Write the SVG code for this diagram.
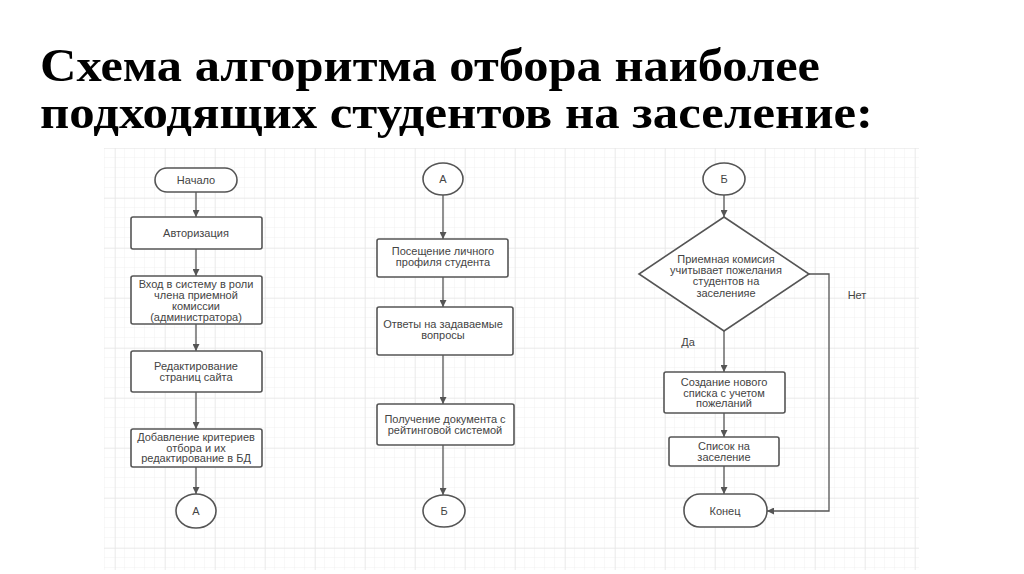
<svg xmlns="http://www.w3.org/2000/svg" width="1024" height="574" viewBox="0 0 1024 574">
  <defs>
    <pattern id="minor" x="105" y="148" width="10" height="10" patternUnits="userSpaceOnUse">
      <path d="M10 0V10M0 10H10" fill="none" stroke="#f0f0f0" stroke-width="1"/>
    </pattern>
    <pattern id="major" x="115" y="148" width="50" height="50" patternUnits="userSpaceOnUse">
      <path d="M0 0V50M0 0H50" fill="none" stroke="#e2e2e2" stroke-width="1"/>
    </pattern>
    <marker id="arr" viewBox="0 0 10 10" refX="10" refY="5" markerWidth="7" markerHeight="7" markerUnits="userSpaceOnUse" orient="auto">
      <path d="M0 0L10 5L0 10Z" fill="#555"/>
    </marker>
    <style>
      .title { font-family: "Liberation Serif", "Times New Roman", serif; font-weight: bold; font-size: 46px; fill: #000; }
      .box { fill: #fff; stroke: #555; stroke-width: 1.6; }
      .t { font-family: "Liberation Sans", Arial, sans-serif; font-size: 11px; fill: #444; text-anchor: middle; dominant-baseline: central; }
      .c { fill: none; stroke: #555; stroke-width: 1.3; marker-end: url(#arr); }
    </style>
  </defs>
  <rect width="1024" height="574" fill="#fff"/>
  <text class="title" x="40" y="81" textLength="780" lengthAdjust="spacingAndGlyphs">Схема алгоритма отбора наиболее</text>
  <text class="title" x="40" y="128" textLength="833" lengthAdjust="spacingAndGlyphs">подходящих студентов на заселение:</text>

  <g id="grid">
    <rect x="104" y="148" width="815" height="422" fill="url(#minor)"/>
    <rect x="104" y="148" width="815" height="422" fill="url(#major)"/>
  </g>

  <g id="connectors">
    <path class="c" d="M196 192V217"/>
    <path class="c" d="M196 249V276"/>
    <path class="c" d="M196 324V351"/>
    <path class="c" d="M196 392V429"/>
    <path class="c" d="M196 467V494"/>
    <path class="c" d="M443 195V239"/>
    <path class="c" d="M443 277V307"/>
    <path class="c" d="M443 355V404"/>
    <path class="c" d="M443 445V495"/>
    <path class="c" d="M724 195V217"/>
    <path class="c" d="M724 331V372"/>
    <path class="c" d="M724 413V437"/>
    <path class="c" d="M724 466V494"/>
    <path class="c" d="M809 274H829V511H767"/>
    <text class="t" x="688" y="342">Да</text>
    <text class="t" x="857" y="295">Нет</text>
  </g>

  <g id="start">
    <rect class="box" x="155" y="168" width="82" height="24" rx="12"/>
    <text class="t" x="196" y="180">Начало</text>
  </g>
  <g id="auth">
    <rect class="box" x="131" y="217" width="131" height="32" rx="2"/>
    <text class="t" x="196" y="233">Авторизация</text>
  </g>
  <g id="login">
    <rect class="box" x="131" y="276" width="131" height="48" rx="2"/>
    <text class="t" x="196" y="284">Вход в систему в роли</text>
    <text class="t" x="196" y="295">члена приемной</text>
    <text class="t" x="196" y="306">комиссии</text>
    <text class="t" x="196" y="317">(администратора)</text>
  </g>
  <g id="edit">
    <rect class="box" x="131" y="351" width="131" height="41" rx="2"/>
    <text class="t" x="196" y="366">Редактирование</text>
    <text class="t" x="196" y="377">страниц сайта</text>
  </g>
  <g id="criteria">
    <rect class="box" x="131" y="429" width="131" height="38" rx="2"/>
    <text class="t" x="196" y="437">Добавление критериев</text>
    <text class="t" x="196" y="447.5">отбора и их</text>
    <text class="t" x="196" y="458">редактирование в БД</text>
  </g>
  <g id="connA1">
    <ellipse class="box" cx="196" cy="511" rx="20" ry="17"/>
    <text class="t" x="196" y="511">А</text>
  </g>

  <g id="connA2">
    <ellipse class="box" cx="443" cy="179" rx="20" ry="16"/>
    <text class="t" x="443" y="179">А</text>
  </g>
  <g id="profile">
    <rect class="box" x="377" y="239" width="131" height="38" rx="2"/>
    <text class="t" x="443" y="251">Посещение личного</text>
    <text class="t" x="443" y="262">профиля студента</text>
  </g>
  <g id="answers">
    <rect class="box" x="377" y="307" width="136" height="48" rx="2"/>
    <text class="t" x="443" y="324">Ответы на задаваемые</text>
    <text class="t" x="443" y="335">вопросы</text>
  </g>
  <g id="document">
    <rect class="box" x="377" y="404" width="137" height="41" rx="2"/>
    <text class="t" x="445" y="419">Получение документа с</text>
    <text class="t" x="445" y="430">рейтинговой системой</text>
  </g>
  <g id="connB1">
    <ellipse class="box" cx="444" cy="511" rx="21" ry="16"/>
    <text class="t" x="444" y="511">Б</text>
  </g>

  <g id="connB2">
    <ellipse class="box" cx="724" cy="179" rx="21" ry="16"/>
    <text class="t" x="724" y="179">Б</text>
  </g>
  <g id="decision">
    <path class="box" d="M724 217L809 274L724 331L639 274Z"/>
    <text class="t" x="726" y="259">Приемная комисия</text>
    <text class="t" x="726" y="270">учитывает пожелания</text>
    <text class="t" x="726" y="281">студентов на</text>
    <text class="t" x="726" y="293">заселенияе</text>
  </g>
  <g id="newlist">
    <rect class="box" x="664" y="372" width="121" height="41" rx="2"/>
    <text class="t" x="724" y="382">Создание нового</text>
    <text class="t" x="724" y="392.5">списка с учетом</text>
    <text class="t" x="724" y="403">пожеланий</text>
  </g>
  <g id="list">
    <rect class="box" x="669" y="437" width="110" height="29" rx="2"/>
    <text class="t" x="724" y="446">Список на</text>
    <text class="t" x="724" y="457">заселение</text>
  </g>
  <g id="end">
    <rect class="box" x="684" y="494" width="83" height="33" rx="16"/>
    <text class="t" x="725" y="511">Конец</text>
  </g>
</svg>
